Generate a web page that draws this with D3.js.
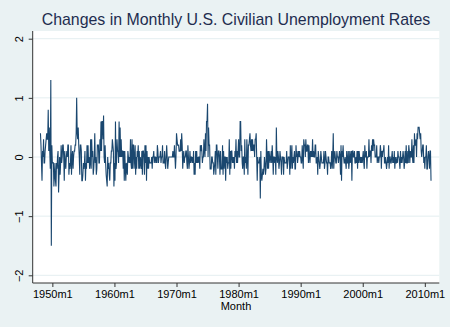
<!DOCTYPE html>
<html>
<head>
<meta charset="utf-8">
<script src="https://cdn.jsdelivr.net/npm/d3@7"></script>
<style>
  html, body { margin: 0; padding: 0; background: #EAF2F3; }
  svg { display: block; font-family: "Liberation Sans", Arial, Helvetica, sans-serif; }
</style>
</head>
<body>
<svg id="chart" width="450" height="327"></svg>
<script>
// ---- Data -------------------------------------------------------------
const titleText = "Changes in Monthly U.S. Civilian Unemployment Rates";
const xAxisTitle = "Month";
// first observation: 1948m2 (Stata %tm index, 1960m1 = 0)
const startYear = 1948;
const startMonth = 2;
// monthly change in the unemployment rate (percentage points), 1948m2 .. 2011m1
const changes = [
  0.4, 0.2, -0.1, -0.4, 0.1, 0, 0.3, -0.1, -0.1, 0.1, 0.2,             // 1948 (m2-m12)
  0.3, 0.4, 0.3, 0.3, 0.8, 0.1, 0.5, 0.1, -0.2, 1.3, -1.5, 0.2,        // 1949
  -0.1, -0.1, -0.1, -0.5, -0.3, -0.1, -0.4, -0.5, -0.1, -0.2, 0, 0.1,  // 1950
  -0.6, -0.3, 0, -0.3, -0.1, 0.2, -0.1, 0, 0.2, 0.2, 0, -0.4,          // 1951
  0.1, -0.1, -0.2, 0, 0.1, 0, 0.2, 0.2, -0.3, -0.1, -0.2, -0.1,        // 1952
  0.2, -0.3, 0, 0.1, -0.2, 0, 0.1, 0.1, 0.2, 0.2, 0.4, 1.0,            // 1953
  0.4, 0.3, 0.5, 0.2, 0, -0.3, 0.2, 0.2, 0.1, -0.4, -0.4, -0.3,        // 1954
  -0.1, -0.2, -0.1, 0.1, -0.4, -0.1, -0.2, 0.2, -0.1, 0.2, -0.1, 0,    // 1955
  -0.2, -0.1, 0.3, -0.2, 0.3, 0, 0.1, -0.3, -0.2, 0, 0.4, -0.1,        // 1956
  0, -0.3, -0.2, 0.2, 0.2, 0.2, -0.1, -0.1, 0.3, 0.1, 0.6, 0.1,        // 1957
  0.6, 0.6, 0.3, 0.7, 0, -0.1, 0.2, -0.1, -0.3, -0.4, -0.5, 0,         // 1958
  -0.2, -0.1, -0.3, -0.4, -0.1, -0.1, 0.1, 0.1, 0.3, 0.2, 0.1, -0.5,   // 1959
  -0.1, -0.4, 0.6, -0.2, -0.1, 0.3, 0.1, 0.1, -0.1, 0.6, 0, 0.5,       // 1960
  0, 0.3, 0, 0.1, 0.1, -0.2, 0.1, -0.4, 0.1, -0.2, -0.4, -0.1,         // 1961
  -0.2, -0.3, 0.1, 0, -0.1, 0, -0.1, 0.3, -0.1, -0.2, 0.3, -0.2,       // 1962
  0.2, 0.2, -0.2, 0, 0.2, -0.3, 0, -0.2, 0.1, 0, 0.2, -0.2,            // 1963
  0.1, -0.2, 0, -0.1, -0.2, 0.1, -0.3, 0.1, 0.1, 0, -0.3, 0.2,         // 1964
  -0.1, 0.2, -0.4, 0.1, -0.2, 0, -0.2, 0, -0.1, -0.1, -0.1, -0.1,      // 1965
  0, -0.2, 0, 0, 0.1, -0.1, 0, 0, -0.1, 0, -0.1, 0.2,                  // 1966
  0.1, -0.1, 0, 0, 0, 0.1, -0.1, 0, 0, 0.2, -0.1, -0.1,                // 1967
  -0.1, 0.1, -0.1, -0.2, 0, 0.2, 0, -0.2, -0.1, 0, 0, 0,               // 1968
  0, 0, 0, 0, 0, 0.1, 0, 0, 0.2, 0, -0.2, 0,                           // 1969
  0.4, 0.3, 0.2, 0.2, 0.2, 0.1, 0.1, 0.1, 0.3, 0.1, 0.4, 0.2,          // 1970
  -0.2, 0, 0.1, -0.1, 0, 0, 0.1, 0.1, -0.1, -0.2, 0.2, 0,              // 1971
  -0.2, -0.1, 0.1, -0.1, 0, 0, -0.1, 0, -0.1, 0.1, -0.3, -0.1,         // 1972
  -0.3, 0.1, -0.1, 0.1, -0.1, 0, -0.1, 0, 0, -0.2, 0.2, 0.1,           // 1973
  0.2, 0.1, -0.1, 0, 0, 0.3, 0.1, 0, 0.4, 0.1, 0.6, 0.6,               // 1974
  0.9, 0, 0.5, 0.2, 0.2, -0.2, -0.2, -0.2, 0, 0, -0.1, -0.1,           // 1975
  -0.3, -0.2, -0.1, 0.1, -0.3, 0.2, 0.2, 0, -0.2, 0.1, 0.1, 0,         // 1976
  -0.3, 0.1, -0.2, -0.2, -0.2, 0.2, -0.3, 0.1, -0.2, 0, 0, -0.4,       // 1977
  0, -0.1, 0, -0.2, -0.1, -0.1, 0.3, -0.3, 0.1, -0.2, 0.1, 0.1,        // 1978
  -0.1, 0, -0.1, 0, -0.2, 0.1, 0, 0.3, -0.1, 0.1, -0.1, 0.1,           // 1979
  0.3, 0, 0, 0.6, 0.6, 0.1, 0.2, -0.1, -0.2, 0, 0, -0.3,               // 1980
  0.3, -0.1, 0, -0.2, 0.3, 0, -0.3, 0.2, 0.2, 0.3, 0.4, 0.2,           // 1981
  0.1, 0.3, 0.1, 0.3, 0.1, 0.2, 0.2, 0, 0.3, 0.3, 0.4, 0,              // 1982
  -0.4, 0, -0.1, -0.1, -0.1, 0, -0.7, 0.1, -0.3, -0.4, -0.3, -0.2,     // 1983
  -0.3, -0.2, 0, -0.1, -0.3, -0.2, 0.3, 0, -0.2, 0.1, -0.2, 0.1,       // 1984
  0, -0.1, 0, 0.1, -0.1, 0.2, 0, -0.3, 0, 0, -0.1, 0,                  // 1985
  -0.3, 0.5, 0, -0.1, 0.1, 0, -0.2, -0.1, 0.1, 0, -0.1, -0.3,          // 1986
  0, 0, 0, -0.3, 0, -0.1, -0.1, -0.1, -0.1, 0.1, -0.2, -0.1,           // 1987
  0, 0, 0, -0.3, 0.2, -0.2, 0, 0.2, -0.2, 0, -0.1, 0,                  // 1988
  0.1, -0.2, -0.2, 0.2, 0, 0.1, -0.1, 0, 0.1, 0, 0.1, 0,               // 1989
  0, -0.1, -0.1, 0.2, 0, -0.2, 0.3, 0.2, 0.2, 0, 0.3, 0.1,             // 1990
  0.1, 0.2, 0.2, -0.1, 0.2, 0, -0.1, 0.1, 0, 0.1, 0, 0.3,              // 1991
  0, 0.1, 0, 0, 0.2, 0.2, -0.1, -0.1, 0, -0.3, 0.1, 0,                 // 1992
  -0.1, -0.2, -0.1, 0.1, 0, -0.1, -0.1, -0.1, -0.1, 0.1, -0.2, -0.1,   // 1993
  0.1, 0, -0.1, -0.1, -0.3, 0, 0, -0.1, -0.1, -0.1, -0.2, -0.1,        // 1994
  0.1, -0.2, 0, 0.4, -0.2, 0, 0.1, 0, -0.1, -0.1, 0.1, 0,              // 1995
  0, -0.1, 0, 0.1, 0, -0.3, 0.2, -0.4, 0.1, 0, 0.2, 0,                 // 1996
  -0.1, -0.1, 0, -0.1, -0.2, 0.1, -0.1, -0.1, 0.1, -0.2, -0.1, 0.1,    // 1997
  -0.1, 0, 0.1, -0.4, 0.1, 0.1, 0, 0, 0.1, -0.1, -0.1, 0,              // 1998
  -0.1, 0.1, -0.2, 0.1, -0.1, 0.1, 0, -0.1, 0, -0.1, 0, -0.1,          // 1999
  0, 0.1, -0.1, -0.2, 0.2, 0, 0, 0.1, -0.2, 0, 0, 0,                   // 2000
  0.3, 0, 0.1, 0.1, -0.1, 0.2, 0.1, 0.3, 0.1, 0.3, 0.2, 0.2,           // 2001
  0, 0, 0, 0.2, -0.1, 0, 0, -0.1, 0, 0, 0.2, 0.1,                      // 2002
  -0.2, 0.1, 0, 0.1, 0.1, 0.2, -0.1, -0.1, 0, -0.1, -0.2, -0.1,        // 2003
  0, -0.1, 0.2, -0.2, 0, 0, -0.1, -0.1, 0, 0.1, -0.1, 0,               // 2004
  -0.1, 0.1, -0.2, 0, -0.1, -0.1, 0, -0.1, 0.1, 0, 0, -0.1,            // 2005
  -0.2, 0.1, -0.1, 0, -0.1, 0, 0.1, 0, -0.2, -0.1, 0.1, -0.1,          // 2006
  0.2, -0.1, -0.1, 0.1, -0.1, 0.2, 0.1, -0.1, 0.1, 0, 0, 0.3,          // 2007
  0, -0.1, 0.2, -0.1, 0.4, 0.2, 0.2, 0.3, 0, 0.4, 0.3, 0.5,            // 2008
  0.5, 0.5, 0.4, 0.3, 0.4, 0.1, 0, 0.1, 0.2, 0.2, -0.1, 0,             // 2009
  -0.2, 0, 0, 0.2, -0.2, -0.2, 0, 0.1, 0, -0.2, 0.1, 0.1,              // 2010
  -0.4                                                                 // 2011 (m1)
];
const xTickYears = [1950, 1960, 1970, 1980, 1990, 2000, 2010];
const yTickValues = [-2, -1, 0, 1, 2];

// ---- Layout -----------------------------------------------------------
const W = 450, H = 327;
const plot = { left: 32.7, right: 439.3, top: 31, bottom: 283 };
const navy = "#1A476F";
const bg = "#EAF2F3";

const svg = d3.select("#chart");
svg.append("rect").attr("width", W).attr("height", H).attr("fill", bg);

// Stata monthly index: (year-1960)*12 + (month-1)
const tm = (y, m) => (y - 1960) * 12 + (m - 1);
const t0 = tm(startYear, startMonth);
const data = changes.map((v, i) => ({ t: t0 + i, v }));

const x = d3.scaleLinear().domain([-158, 628]).range([plot.left, plot.right]);
const y = d3.scaleLinear().domain([-2.13, 2.13]).range([plot.bottom, plot.top]);

// plot region
svg.append("rect")
  .attr("x", plot.left).attr("y", plot.top)
  .attr("width", plot.right - plot.left).attr("height", plot.bottom - plot.top)
  .attr("fill", "#FFFFFF");

// gridlines
svg.append("g").selectAll("line").data(yTickValues).join("line")
  .attr("x1", plot.left).attr("x2", plot.right)
  .attr("y1", d => y(d)).attr("y2", d => y(d))
  .attr("stroke", "#E4EEF0").attr("stroke-width", 1);

// series line
const line = d3.line().x(d => x(d.t)).y(d => y(d.v));
svg.append("path").datum(data)
  .attr("d", line)
  .attr("fill", "none")
  .attr("stroke", navy)
  .attr("stroke-width", 1.1)
  .attr("stroke-linejoin", "miter");

// y axis
const yAxis = d3.axisLeft(y).tickValues(yTickValues).tickSize(4).tickFormat(d3.format("d"));
const gy = svg.append("g").attr("transform", `translate(${plot.left},0)`).call(yAxis);
gy.select(".domain").attr("stroke", "#333").attr("d", `M0,${plot.top}V${plot.bottom}`);
gy.selectAll(".tick line").attr("stroke", "#333");
gy.selectAll(".tick text")
  .attr("x", null).attr("dy", null)
  .attr("transform", "translate(-9.5,0) rotate(-90)")
  .attr("text-anchor", "middle")
  .attr("fill", "#000")
  .style("font-size", "11px")
  .style("font-family", "'Liberation Sans', Arial, sans-serif");

// x axis
const xAxis = d3.axisBottom(x)
  .tickValues(xTickYears.map(yr => tm(yr, 1)))
  .tickSize(4)
  .tickFormat(d => `${1960 + Math.floor(d / 12)}m${(d % 12 + 12) % 12 + 1}`);
const gx = svg.append("g").attr("transform", `translate(0,${plot.bottom})`).call(xAxis);
gx.select(".domain").attr("stroke", "#333").attr("d", `M${plot.left},0H${plot.right}`);
gx.selectAll(".tick line").attr("stroke", "#333");
gx.selectAll(".tick text")
  .attr("y", 14.7).attr("dy", null)
  .attr("fill", "#000")
  .style("font-size", "11px")
  .style("font-family", "'Liberation Sans', Arial, sans-serif");

// axis title
svg.append("text")
  .attr("x", (plot.left + plot.right) / 2).attr("y", 310)
  .attr("text-anchor", "middle")
  .attr("fill", "#000")
  .style("font-size", "11px")
  .text(xAxisTitle);

// title
svg.append("text")
  .attr("x", 236).attr("y", 25)
  .attr("text-anchor", "middle")
  .attr("fill", "#1E2D4F")
  .style("font-size", "15.9px")
  .text(titleText);
</script>
</body>
</html>
